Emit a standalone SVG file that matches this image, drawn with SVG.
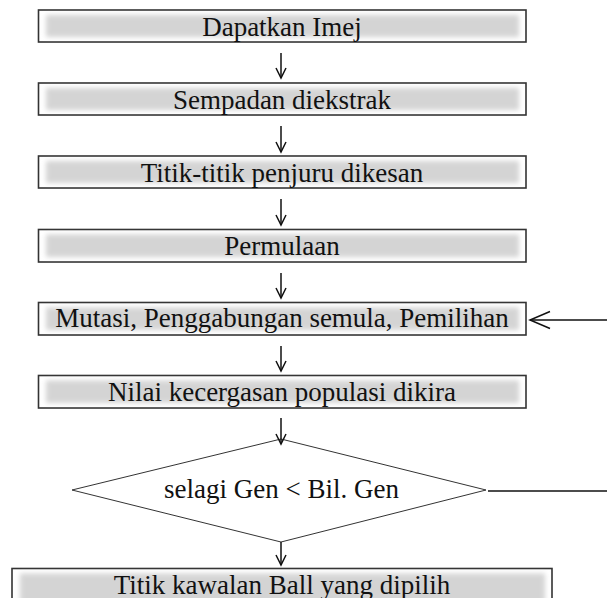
<svg xmlns="http://www.w3.org/2000/svg" width="607" height="598" viewBox="0 0 607 598">
<style>
.box{fill:#fff;stroke:#333;stroke-width:1.6}
.shade{fill:#d4d4d4;filter:url(#blur)}
.t{font-family:'Liberation Serif','Times New Roman','DejaVu Serif',serif;font-size:27px;fill:#111;text-anchor:middle}
.c{stroke:#111;stroke-width:1.5;fill:none}
.dia{fill:#fff;stroke:#333;stroke-width:1}
</style>
<defs>
<filter id="blur" x="-10%" y="-50%" width="120%" height="200%"><feGaussianBlur stdDeviation="2.8"/></filter>
<marker id="ah" markerWidth="14" markerHeight="12" refX="12" refY="6" orient="auto" markerUnits="userSpaceOnUse" viewBox="0 0 14 12">
<path d="M2,1 L12,6 L2,11" fill="none" stroke="#111" stroke-width="1.5"/>
</marker>
</defs>
<rect width="607" height="598" fill="#fff"/>
<g id="n1"><rect class="box" x="38.5" y="10" width="487.5" height="32"/><rect class="shade" x="46" y="15" width="473" height="22"/><text class="t" font-family="Liberation Serif, serif" x="282" y="35.5">Dapatkan Imej</text></g>
<g id="n2"><rect class="box" x="38.5" y="83" width="487.5" height="32"/><rect class="shade" x="46" y="88" width="473" height="22"/><text class="t" x="282" y="108.5">Sempadan diekstrak</text></g>
<g id="n3"><rect class="box" x="38.5" y="156" width="487.5" height="32"/><rect class="shade" x="46" y="161" width="473" height="22"/><text class="t" x="282" y="181.5">Titik-titik penjuru dikesan</text></g>
<g id="n4"><rect class="box" x="38.5" y="229.5" width="487.5" height="32.5"/><rect class="shade" x="46" y="234.5" width="473" height="22.5"/><text class="t" x="282" y="255">Permulaan</text></g>
<g id="n5"><rect class="box" x="38.5" y="302.5" width="487.5" height="32.5"/><rect class="shade" x="46" y="307.5" width="473" height="22.5"/><text class="t" x="282" y="327">Mutasi, Penggabungan semula, Pemilihan</text></g>
<g id="n6"><rect class="box" x="38.5" y="375.5" width="487.5" height="32.5"/><rect class="shade" x="46" y="380.5" width="473" height="22.5"/><text class="t" x="282" y="400.5">Nilai kecergasan populasi dikira</text></g>
<g id="n7"><polygon class="dia" points="281,439 486,490 281,542 72,490"/><text class="t" x="281.5" y="498">selagi Gen &lt; Bil. Gen</text></g>
<g id="n8"><rect class="box" x="12" y="568.5" width="540" height="40"/><rect class="shade" x="20" y="573.5" width="525" height="30"/><text class="t" x="282" y="593.5">Titik kawalan Ball yang dipilih</text></g>
<g id="connectors">
<line class="c" x1="281" y1="53" x2="281" y2="78" marker-end="url(#ah)"/>
<line class="c" x1="281" y1="126" x2="281" y2="152" marker-end="url(#ah)"/>
<line class="c" x1="281" y1="199" x2="281" y2="225" marker-end="url(#ah)"/>
<line class="c" x1="281" y1="273" x2="281" y2="298" marker-end="url(#ah)"/>
<line class="c" x1="281" y1="346" x2="281" y2="371" marker-end="url(#ah)"/>
<line class="c" x1="281" y1="418" x2="281" y2="444" marker-end="url(#ah)"/>
<line class="c" x1="281" y1="542" x2="281" y2="565" marker-end="url(#ah)"/>
<line class="c" x1="607" y1="320" x2="530" y2="320"/>
<path class="c" d="M550,311.5 L530,320 L550,328.5"/>
<line class="c" x1="488" y1="491" x2="607" y2="491" stroke-width="2"/>
</g>
</svg>
